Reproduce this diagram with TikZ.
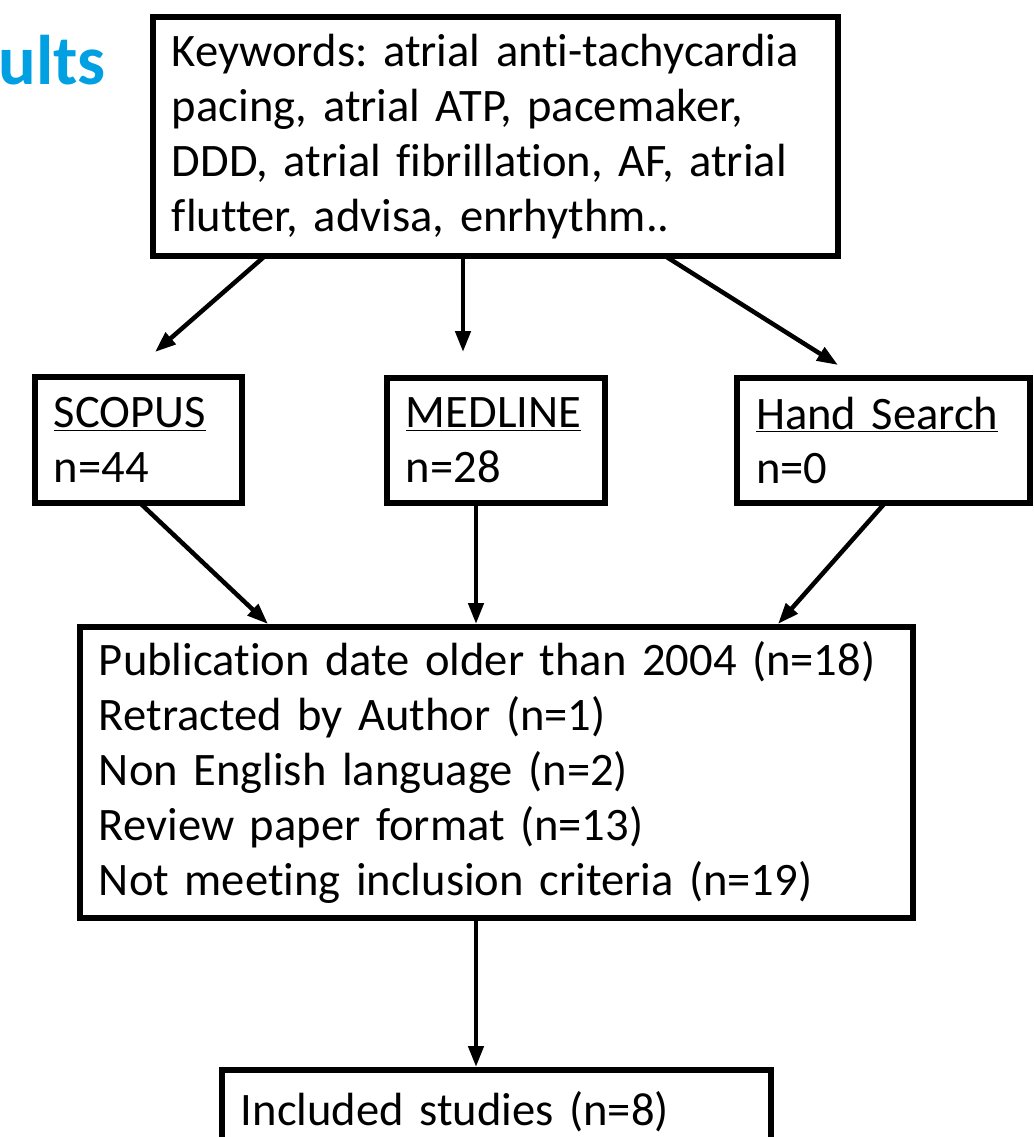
\documentclass[tikz,border=0pt]{standalone}
\usepackage{fontspec}
\setmainfont[Ligatures={NoCommon}]{Carlito}
\usepackage{xcolor}
\usetikzlibrary{positioning,arrows.meta,calc}
\definecolor{titleblue}{HTML}{00A0E3}
\frenchspacing
\tikzset{
  box/.style={draw, line width=0.12cm, anchor=north west, outer sep=0pt, align=left,
    inner xsep=0.38cm, inner ysep=0pt, font=\fontsize{26.5}{31.3}\selectfont},
  flow/.style={-{Triangle[length=0.42cm, width=0.3cm]}, line width=0.09cm},
}

\begin{document}
\begin{tikzpicture}[x=0.02cm, y=-0.02cm]
  \useasboundingbox (0,0) rectangle (1034,1137);
  \node[anchor=base west, inner sep=0pt, text=titleblue, font=\fontsize{40}{44}\selectfont\bfseries] (ttl) at (-2,84) {ults};

  % search and sources
  \node[box, text width=12.94cm, minimum height=4.78cm] (kw) at (153,17)
    {Keywords: atrial anti-tachycardia\\pacing, atrial ATP, pacemaker,\\DDD, atrial fibrillation, AF, atrial\\flutter, advisa, enrhythm..};
  \node[box, text width=3.38cm, minimum height=2.52cm] (sc) at (35,377) {\underline{SCOPUS}\\n=44};
  \node[box, text width=3.60cm, minimum height=2.50cm] (md) at (387,378) {\underline{MEDLINE}\\n=28};
  \node[box, text width=5.10cm, minimum height=2.50cm] (hs) at (737,378) {\underline{Hand Search}\\n=0};

  % exclusions
  \node[box, text width=15.90cm, minimum height=5.82cm] (ex) at (80,627)
    {Publication date older than 2004 (n=18)\\Retracted by Author (n=1)\\Non English language (n=2)\\Review paper format (n=13)\\Not meeting inclusion criteria (n=19)};
  \node[box, text width=10.22cm, minimum height=1.68cm] (inc) at (222,1070) {Included studies (n=8)};

  \draw[flow] ($(kw.south west)+(112,0)$) -- ($(sc.north west)+(120,-25)$);
  \draw[flow] ($(kw.south west)+(310,0)$) -- ($(md.north west)+(76,-26)$);
  \draw[flow] ($(kw.south west)+(512,0)$) -- ($(hs.north west)+(101,-13)$);
  \draw[flow] ($(sc.south west)+(105,0)$) -- ($(ex.north west)+(188,-3)$);
  \draw[flow] ($(md.south west)+(89,0)$) -- ($(ex.north west)+(396,-3)$);
  \draw[flow] ($(hs.south west)+(148,0)$) -- ($(ex.north west)+(698,-3)$);
  \draw[flow] ($(ex.south west)+(396,0)$) -- ($(inc.north west)+(254,-3)$);
\end{tikzpicture}
\end{document}
